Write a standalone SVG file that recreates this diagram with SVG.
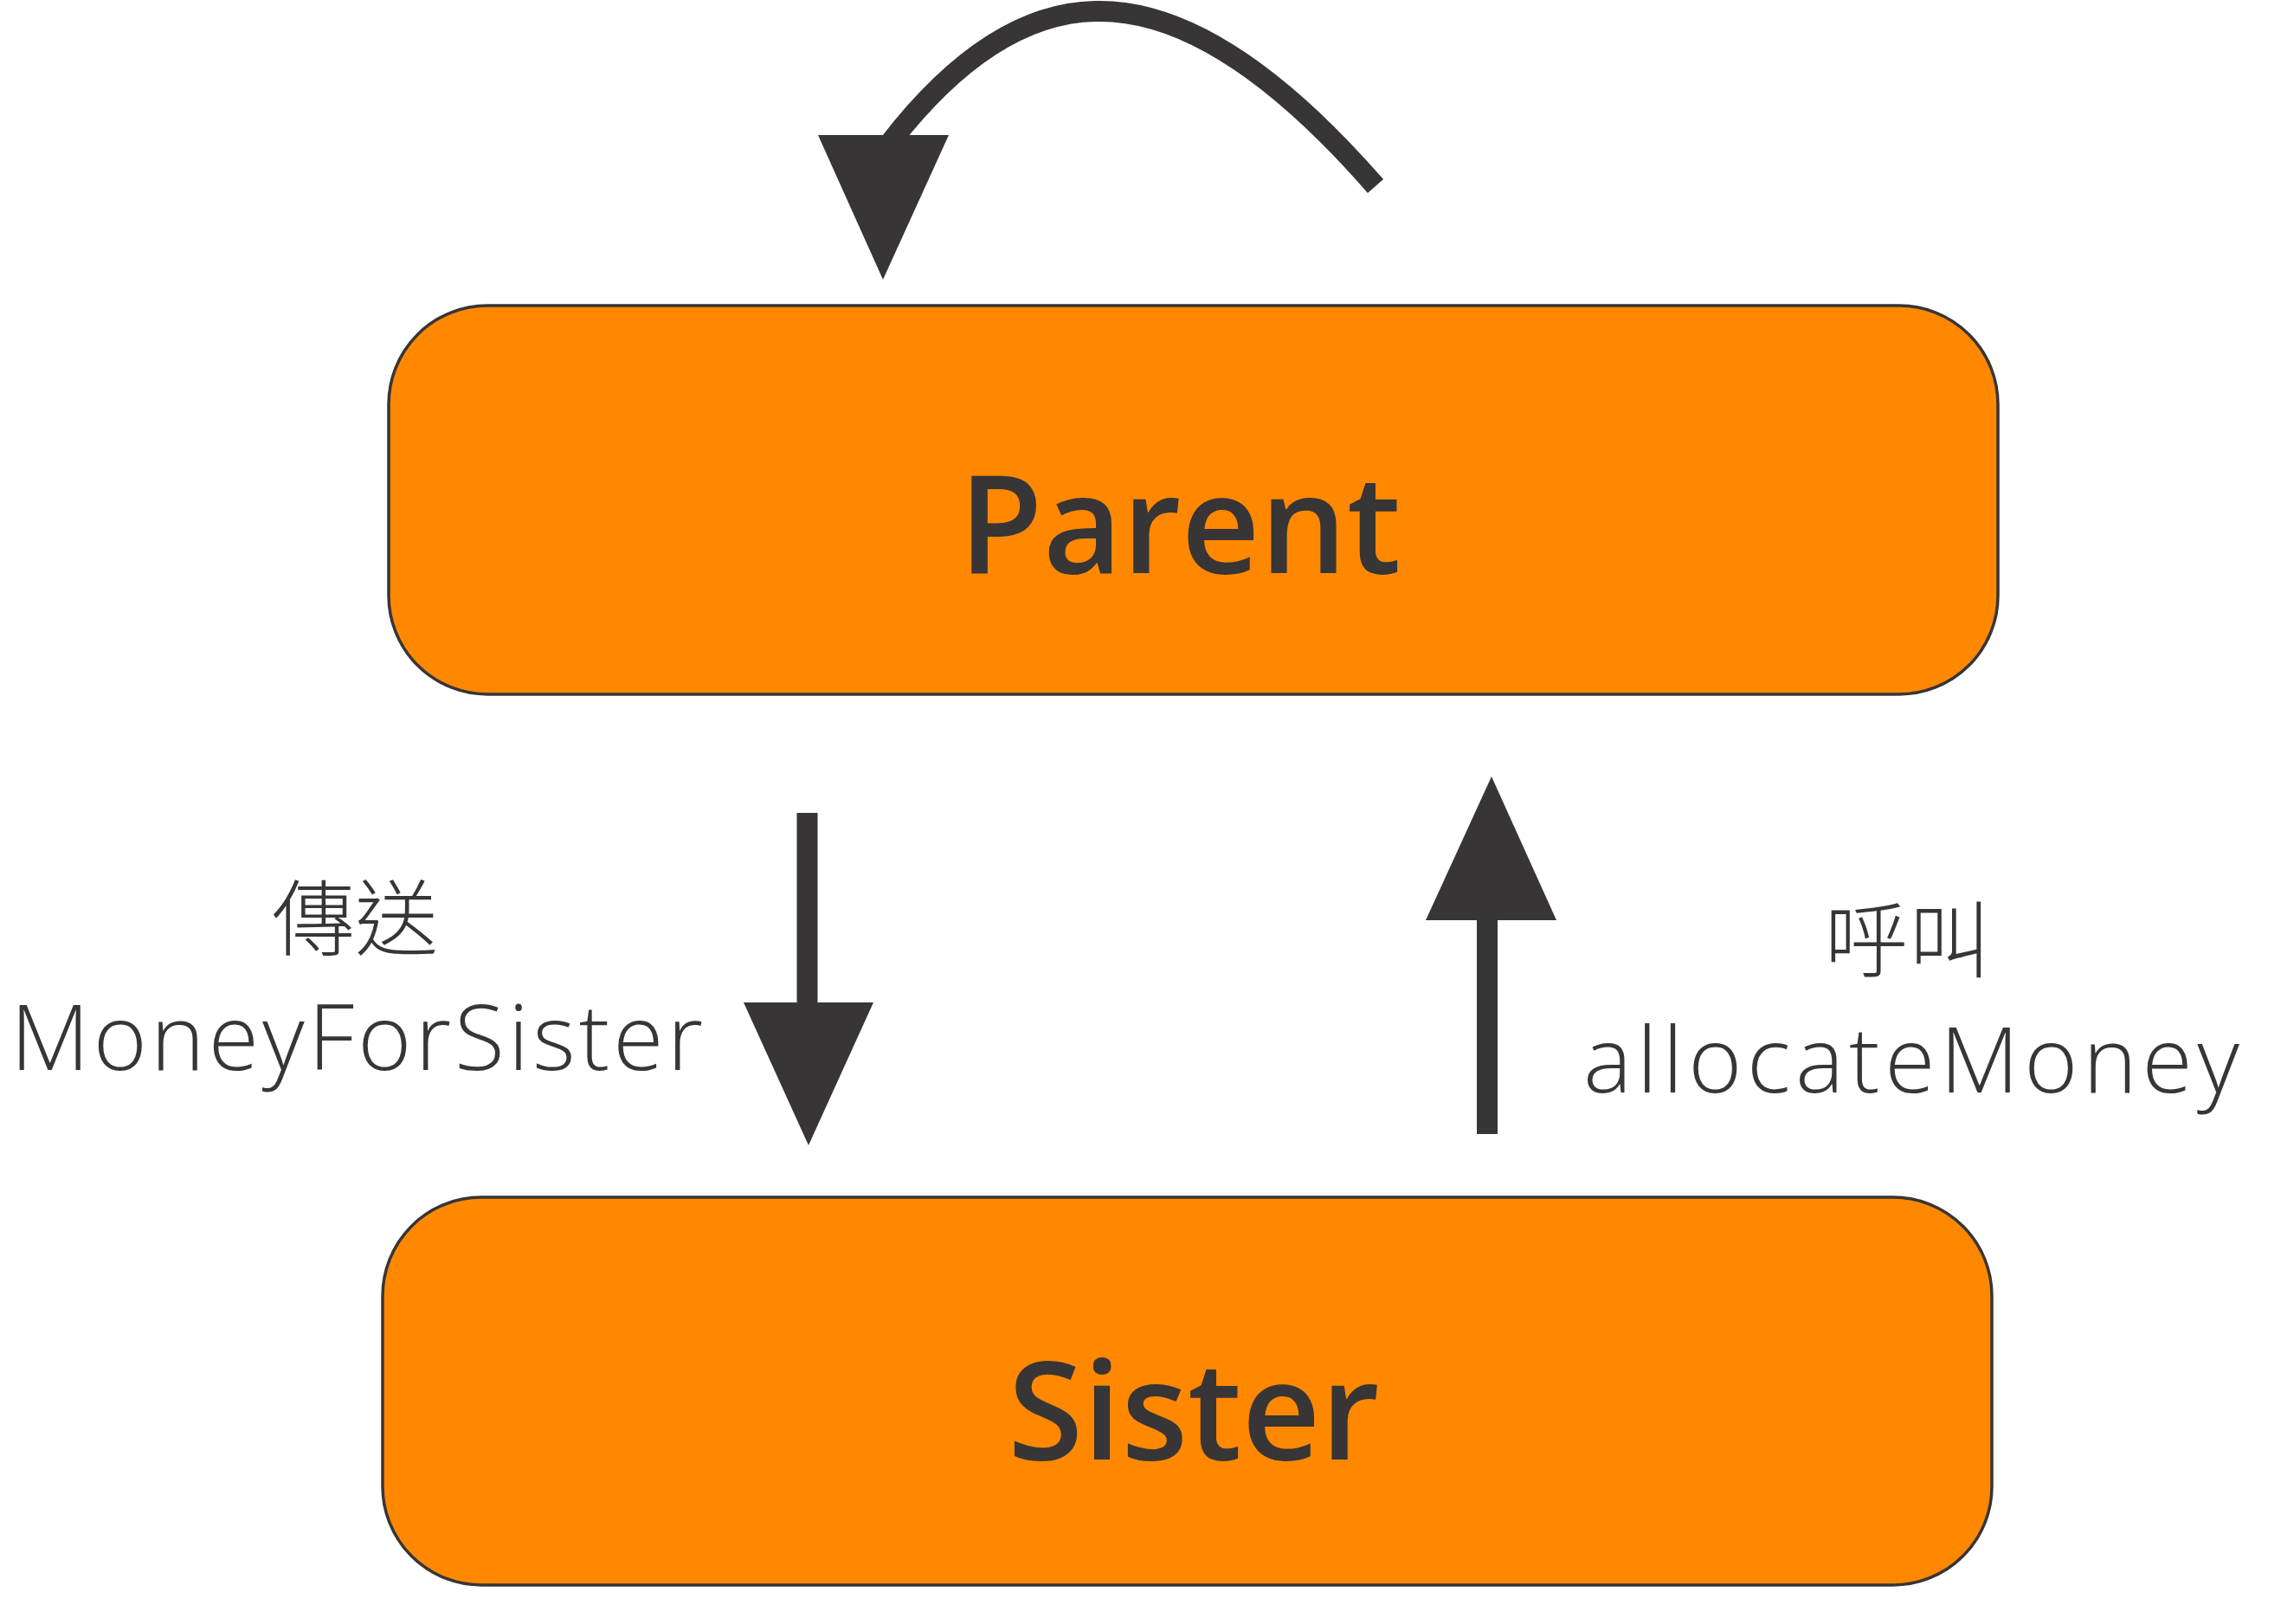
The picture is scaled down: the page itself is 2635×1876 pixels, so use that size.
<svg xmlns="http://www.w3.org/2000/svg" width="2635" height="1876" viewBox="0 0 2635 1876">
<style>
.box{fill:#FF8800;stroke:#373536;stroke-width:3.5}
.title{font-family:"Open Sans","Noto Sans",sans-serif;font-weight:600;font-size:158px;fill:#373536;text-anchor:middle}
.lbl{font-family:"Open Sans","Noto Sans",sans-serif;font-weight:300;font-size:106px;fill:#373536}
.cjk{font-family:"Noto Sans CJK TC","Noto Sans CJK SC",sans-serif;font-weight:300;font-size:96px;fill:#373536;text-anchor:middle}
.line{fill:none;stroke:#373536;stroke-width:24;stroke-linecap:butt}
.head{fill:#373536}
</style>
<rect width="2635" height="1876" fill="#FFFFFF"/>
<g id="connectors">
  <g id="self-loop">
    <path class="line" d="M1589,215 C1480,90 1370,10 1265,13 C1170,15 1090,85 1028,165"/>
    <polygon class="head" points="945,156 1096,156 1020,323"/>
  </g>
  <g id="parent-to-sister">
    <line class="line" x1="932.5" y1="939" x2="932.5" y2="1162"/>
    <polygon class="head" points="859,1158 1009,1158 934,1323"/>
  </g>
  <g id="sister-to-parent">
    <line class="line" x1="1718" y1="1310" x2="1718" y2="1059"/>
    <polygon class="head" points="1647,1063 1798,1063 1723,897"/>
  </g>
</g>
<g id="parent">
  <rect class="box" x="449" y="353" width="1859" height="449" rx="114" ry="114"/>
  <text class="title" x="1363" y="662">Parent</text>
</g>
<g id="sister">
  <rect class="box" x="442" y="1383" width="1859" height="448" rx="114" ry="114"/>
  <text class="title" x="1379" y="1686">Sister</text>
</g>
<g id="label-send">
  <text class="cjk" x="410" y="1096">傳送</text>
  <text class="lbl" x="12" y="1236" textLength="800" lengthAdjust="spacing">MoneyForSister</text>
</g>
<g id="label-call">
  <text class="cjk" x="2204" y="1121">呼叫</text>
  <text class="lbl" x="1829" y="1262" textLength="758" lengthAdjust="spacing">allocateMoney</text>
</g>
</svg>
